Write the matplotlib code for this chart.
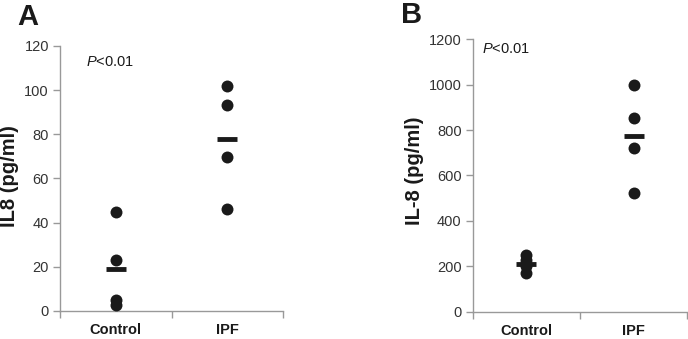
import matplotlib
matplotlib.use("Agg")
import matplotlib.pyplot as plt
import numpy as np

plt.rcParams['font.family'] = ['Liberation Sans', 'DejaVu Sans']
plt.rcParams['mathtext.fontset'] = 'custom'
plt.rcParams['mathtext.it'] = 'Liberation Sans:italic'
plt.rcParams['mathtext.rm'] = 'Liberation Sans'

categories = ["Control", "IPF"]
a_control = [44.7, 23.2, 5.0, 2.5]
a_ipf = [102.0, 93.3, 69.9, 46.2]
b_control = [248, 228, 200, 172]
b_ipf = [998, 855, 722, 521]
a_yticks = [0, 20, 40, 60, 80, 100, 120]
b_yticks = [0, 200, 400, 600, 800, 1000, 1200]

W, H = 688, 339
fig = plt.figure(figsize=(W/100, H/100), dpi=100)

def panel(rect, ctrl, ipf, yticks, ylabel, letter, letter_xy, ylab_xy, p_xy):
    ax = fig.add_axes(rect)
    pos = [0.5, 1.5]
    for p, vals in zip(pos, [ctrl, ipf]):
        ax.plot([p]*len(vals), vals, 'o', color='#1a1a1a', markersize=8.6, zorder=3,
                markeredgewidth=0, clip_on=False)
        ax.plot([p], [np.mean(vals)], '_', color='#1a1a1a', markersize=15,
                markeredgewidth=3.5, zorder=4)
    ax.set_xlim(0, 2)
    ax.set_ylim(yticks[0], yticks[-1])
    ax.set_yticks(yticks)
    ax.set_xticks([0, 1, 2])
    ax.set_xticklabels([])
    ax.set_xticks(pos, minor=True)
    ax.set_xticklabels(categories, minor=True, fontweight='bold', fontsize=10.5, color='#1a1a1a')
    ax.tick_params(axis='x', which='minor', length=0, pad=9)
    ax.tick_params(axis='x', which='major', length=5, color='#999999', width=1)
    ax.tick_params(axis='y', length=5, color='#999999', width=1, labelsize=10.5,
                   labelcolor='#333333', pad=3)
    for s in ['top', 'right']:
        ax.spines[s].set_visible(False)
    for s in ['left', 'bottom']:
        ax.spines[s].set_color('#999999')
        ax.spines[s].set_linewidth(1)
    fig.text(p_xy[0]/W, 1 - p_xy[1]/H, r"$\mathit{P}$<0.01", fontsize=10.5,
             color='#1a1a1a', va='center', ha='left')
    fig.text(ylab_xy[0]/W, 1 - ylab_xy[1]/H, ylabel, rotation=90, fontweight='bold',
             fontsize=14.5, ha='center', va='center', color='#1a1a1a')
    fig.text(letter_xy[0]/W, 1 - letter_xy[1]/H, letter, fontweight='bold', fontsize=21,
             ha='left', va='baseline', color='#1a1a1a')
    return ax

panel([60/W, 28/H, 223/W, 265/H], a_control, a_ipf, a_yticks, "IL8 (pg/ml)", "A",
      (17, 25), (10, 176), (86, 62))
panel([472.7/W, 27.3/H, 214.6/W, 272.4/H], b_control, b_ipf, b_yticks, "IL-8 (pg/ml)", "B",
      (401, 23), (415, 171), (482, 49))

fig.savefig("out.png", dpi=100)
